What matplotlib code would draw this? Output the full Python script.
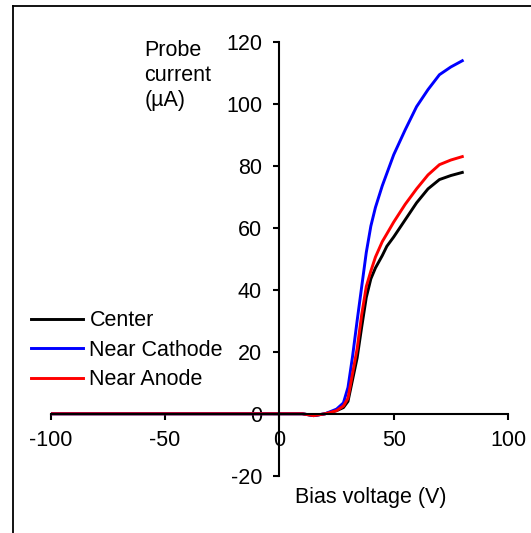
import matplotlib
matplotlib.use("Agg")
import matplotlib.pyplot as plt
from matplotlib.lines import Line2D

plt.rcParams['font.family'] = ['Liberation Sans', 'DejaVu Sans']
plt.rcParams['axes.unicode_minus'] = False

# bias voltage (V)
bias = [-100, -90, -80, -70, -60, -50, -40, -30, -20, -10, 0, 10, 15, 20, 25, 28,
        30, 32, 34, 36, 38, 40, 42, 45, 47, 50, 55, 60, 65, 70, 75, 80]

# probe current (uA)
center = [0, 0, 0, 0, 0, 0, 0, 0, 0, 0, 0, 0, -0.6, 0, 1, 2,
          4, 11, 18, 28, 37.5, 43.5, 47, 51, 54, 57, 62.5, 68, 72.5, 75.5, 76.8, 77.8]
near_cathode = [0, 0, 0, 0, 0, 0, 0, 0, 0, 0, 0, 0, -0.6, 0, 1.5, 3.5,
                8.5, 18.5, 30, 41, 52, 60.5, 66.5, 73.5, 77.5, 83.5, 91.5, 99, 104.5, 109.3, 111.8, 113.8]
near_anode = [0, 0, 0, 0, 0, 0, 0, 0, 0, 0, 0, 0, -0.6, 0, 1, 2.5,
              5, 13, 21, 32, 41, 46, 50.5, 55.5, 58, 61.8, 67.5, 72.5, 77, 80.3, 81.8, 82.9]

xticks = [-100, -50, 0, 50, 100]
yticks = [-20, 0, 20, 40, 60, 80, 100, 120]

fs = 15.5

fig = plt.figure(figsize=(5.31, 5.33), dpi=100)
ax = fig.add_axes([0.0957, 0.1073, 0.861, 0.8148])

ax.plot(bias, center, color='black', lw=2.1, label='Center')
ax.plot(bias, near_cathode, color='#0000FF', lw=2.1, label='Near Cathode')
ax.plot(bias, near_anode, color='#FF0000', lw=2.1, label='Near Anode')

ax.set_xlim(-100, 100)
ax.set_ylim(-20, 120)
ax.set_xticks(xticks)
ax.set_yticks(yticks)

# axes cross at zero, like the original spreadsheet chart
ax.spines['left'].set_position(('data', 0))
ax.spines['bottom'].set_position(('data', 0))
ax.spines['top'].set_visible(False)
ax.spines['right'].set_visible(False)
for s in ('left', 'bottom'):
    ax.spines[s].set_linewidth(1.5)
ax.tick_params(axis='both', direction='out', length=4.5, width=1.5, labelsize=fs)
ax.tick_params(axis='x', pad=7)
ax.tick_params(axis='y', pad=8)

fig.text(0.272, 0.925, 'Probe\ncurrent\n(µA)', fontsize=fs, ha='left', va='top', linespacing=1.25)
fig.text(0.555, 0.066, 'Bias voltage (V)', fontsize=fs, ha='left', va='center')

ax.legend(loc='upper left', bbox_to_anchor=(0.059, 0.418), bbox_transform=fig.transFigure,
          frameon=False, fontsize=fs, handlelength=2.4, handletextpad=0.3,
          labelspacing=0.4, borderpad=0, borderaxespad=0)

# outer frame (left and top edges only visible)
fig.add_artist(Line2D([0.025, 0.025], [0.0, 0.988], transform=fig.transFigure, color='black', lw=1.3))
fig.add_artist(Line2D([0.025, 1.0], [0.988, 0.988], transform=fig.transFigure, color='black', lw=1.3))

fig.savefig('out.png', dpi=100)
